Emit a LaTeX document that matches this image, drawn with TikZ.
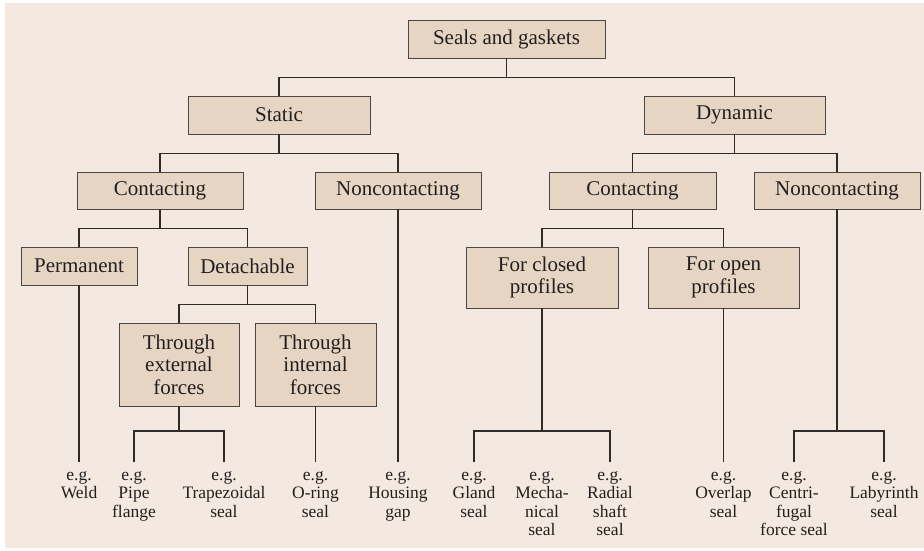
\documentclass[tikz,border=0pt]{standalone}
\usepackage{fontspec}
\setmainfont{Liberation Serif}
\definecolor{pagebg}{HTML}{F3E9E0}
\definecolor{boxfill}{HTML}{E5D5C2}
\definecolor{boxline}{HTML}{4A4643}
\definecolor{wire}{HTML}{2E2B29}
\definecolor{ink}{HTML}{231F20}
\begin{document}
\begin{tikzpicture}[x=1pt,y=-1pt,
  catbox/.style={draw=boxline, fill=boxfill, line width=0.9pt, inner sep=0pt,
    text=ink, align=center, font=\fontsize{21}{22.5}\selectfont},
  leaf/.style={inner sep=0pt, anchor=north, align=center, text=ink,
    font=\fontsize{17.5}{18.5}\selectfont},
  wires/.style={draw=wire, line width=1.1pt}
]
\useasboundingbox (0,0) rectangle (924,550);
\fill[pagebg] (5,3) rectangle (924,548);

% category boxes
\node[catbox, minimum width=197pt, minimum height=38pt] (seals)   at (506.5,39)  {Seals and gaskets};
\node[catbox, minimum width=182pt, minimum height=38pt] (static)  at (279,115)   {Static};
\node[catbox, minimum width=181pt, minimum height=38pt] (dynamic) at (734.5,115) {Dynamic};
\node[catbox, minimum width=166pt, minimum height=37pt] (scont)   at (160,190.5) {Contacting};
\node[catbox, minimum width=166pt, minimum height=37pt] (snonc)   at (398,190.5) {Noncontacting};
\node[catbox, minimum width=167pt, minimum height=37pt] (dcont)   at (632.5,190.5) {Contacting};
\node[catbox, minimum width=166pt, minimum height=37pt] (dnonc)   at (837,190.5) {Noncontacting};
\node[catbox, minimum width=116pt, minimum height=38pt] (perm)    at (79,266)    {Permanent};
\node[catbox, minimum width=119pt, minimum height=38pt] (detach)  at (247.5,266) {Detachable};
\node[catbox, minimum width=120pt, minimum height=83pt] (ext)     at (179,364.5) {Through\\external\\forces};
\node[catbox, minimum width=121pt, minimum height=83pt] (int)     at (315.5,364.5) {Through\\internal\\forces};
\node[catbox, minimum width=152pt, minimum height=61pt] (closed)  at (542,277.5) {For closed\\profiles};
\node[catbox, minimum width=151pt, minimum height=61pt] (open)    at (723.5,277.5) {For open\\profiles};

% example labels
\node[leaf] (weld)   at (79,471)  {e.g.\\Weld};
\node[leaf] (pipe)   at (134,471) {e.g.\\Pipe\\flange};
\node[leaf] (trap)   at (224,471) {e.g.\\Trapezoidal\\seal};
\node[leaf] (oring)  at (315.5,471) {e.g.\\O-ring\\seal};
\node[leaf] (house)  at (398,471) {e.g.\\Housing\\gap};
\node[leaf] (gland)  at (474,471) {e.g.\\Gland\\seal};
\node[leaf] (mech)   at (542,471) {e.g.\\Mecha-\\nical\\seal};
\node[leaf] (radial) at (610,471) {e.g.\\Radial\\shaft\\seal};
\node[leaf] (overlap) at (723.5,471) {e.g.\\Overlap\\seal};
\node[leaf] (centri) at (794,471) {e.g.\\Centri-\\fugal\\force seal};
\node[leaf] (laby)   at (884,471) {e.g.\\Labyrinth\\seal};

% connectors
\draw[wires] (seals.south) -- ++(0,19) coordinate (j0);
\draw[wires] (static.north) |- (j0) -| (dynamic.north);

\draw[wires] (static.south) -- ++(0,19) coordinate (j1);
\draw[wires] (scont.north) |- (j1) -| (snonc.north);

\draw[wires] (dynamic.south) -- ++(0,19) coordinate (j2);
\draw[wires] (dcont.north) |- (j2) -| (dnonc.north);

\draw[wires] (scont.south) -- ++(0,19) coordinate (j3);
\draw[wires] (perm.north) |- (j3) -| (detach.north);

\draw[wires] (detach.south) -- ++(0,19) coordinate (j4);
\draw[wires] (ext.north) |- (j4) -| (int.north);

\draw[wires] (dcont.south) -- ++(0,19) coordinate (j5);
\draw[wires] (closed.north) |- (j5) -| (open.north);

\draw[wires] (perm.south) -- ([yshift=9pt]weld.north);
\draw[wires] (int.south) -- ([yshift=9pt]oring.north);
\draw[wires] (snonc.south) -- ([yshift=9pt]house.north);
\draw[wires] (open.south) -- ([yshift=9pt]overlap.north);

\draw[wires] (ext.south) -- (ext.south |- 0,431) coordinate (j6);
\draw[wires] ([yshift=9pt]pipe.north) |- (j6) -| ([yshift=9pt]trap.north);

\draw[wires] (closed.south) -- (closed.south |- 0,431) coordinate (j7);
\draw[wires] ([yshift=9pt]gland.north) |- (j7) -| ([yshift=9pt]radial.north);

\draw[wires] (dnonc.south) -- (dnonc.south |- 0,431) coordinate (j8);
\draw[wires] ([yshift=9pt]centri.north) |- (j8) -| ([yshift=9pt]laby.north);
\end{tikzpicture}
\end{document}
